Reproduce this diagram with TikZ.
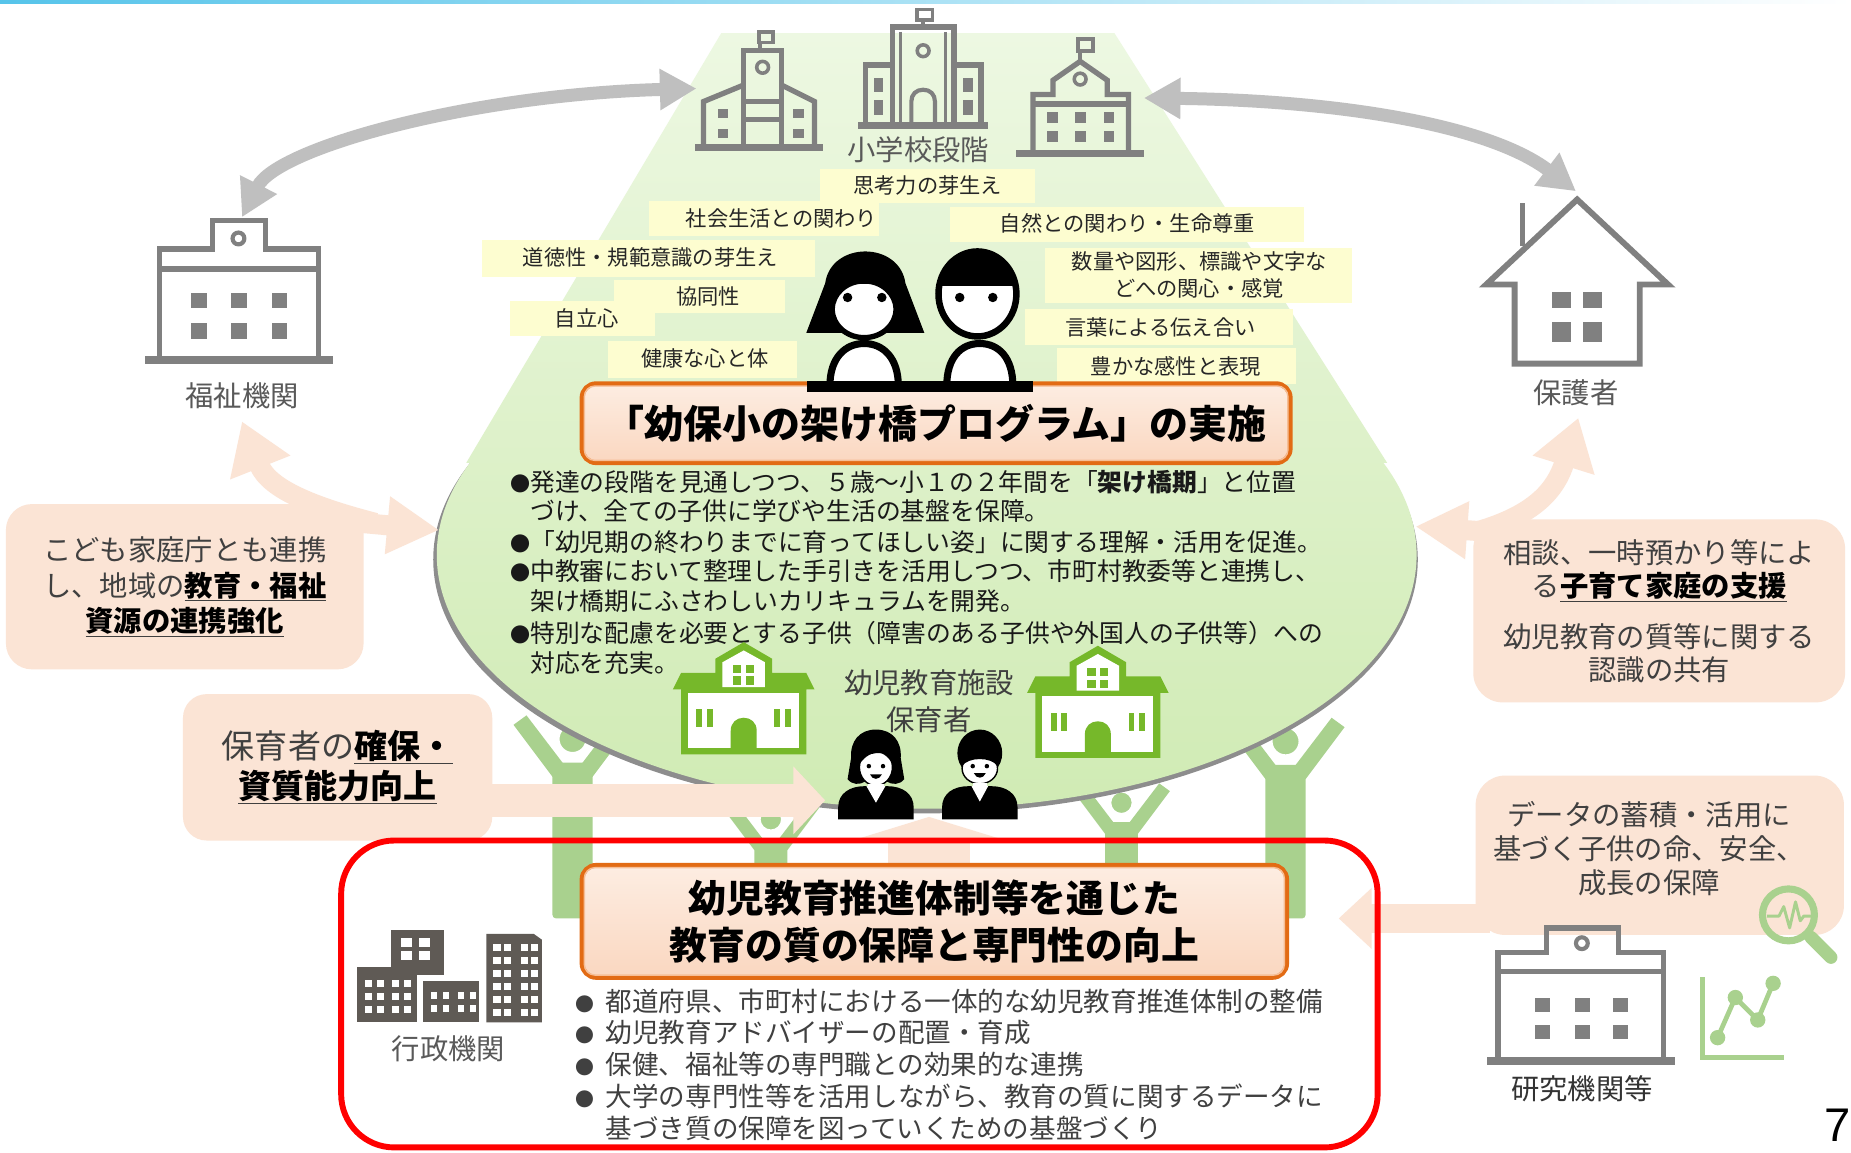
\documentclass[tikz,border=0pt]{standalone}
\usepackage{fontspec}
\setmainfont{Noto Sans CJK JP}
\newfontfamily\pagenumfont{Liberation Sans}
\usetikzlibrary{arrows.meta}

\definecolor{peach}{RGB}{251,228,213}
\definecolor{arrowgray}{RGB}{191,191,191}
\definecolor{icongray}{RGB}{128,128,128}
\definecolor{labelgray}{RGB}{89,89,89}
\definecolor{textdark}{RGB}{64,64,64}
\definecolor{paleyellow}{RGB}{253,253,208}
\definecolor{spotgreen}{RGB}{237,248,226}
\definecolor{ovalbottom}{RGB}{208,235,180}
\definecolor{schoolgreen}{RGB}{118,184,42}
\definecolor{softgreen}{RGB}{169,209,142}
\definecolor{admingray}{RGB}{95,90,85}
\definecolor{titleorange}{RGB}{226,107,20}
\definecolor{titletop}{RGB}{253,237,226}
\definecolor{titlebottom}{RGB}{250,215,192}
\definecolor{titleline}{RGB}{246,190,150}
\definecolor{topblue}{RGB}{86,196,234}

\newcommand{\ulb}[1]{\underline{\textbf{\textcolor{black}{#1}}}}
\newcommand{\dotmark}{{\fontsize{17}{17}\selectfont ●}}
\newcommand{\reddot}{{\fontsize{16}{16}\selectfont ●}\hspace{10pt}}

% cheering figure: head centre (x,y), scale, body length in local units
\newcommand{\cheerfig}[4]{%
  \begin{scope}[shift={(#1,#2)}, scale=#3]
    \fill[softgreen, rounded corners=3pt] (-17,20) rectangle (17,#4);
    \fill[softgreen] (-17,32) -- (-50,-12) -- (-39,-20) -- (-7,22) -- (7,22)
      -- (39,-20) -- (50,-12) -- (17,32) -- cycle;
    \filldraw[fill=softgreen, draw=white, line width=4pt] (0,0) circle (13pt);
  \end{scope}}

% green kindergarten building: apex at (x,y)
\newcommand{\kinderschool}[2]{%
  \begin{scope}[shift={(#1,#2)}]
    \fill[schoolgreen] (0,-3) -- (24,11) -- (24,23) -- (53,23) -- (60,37) -- (53,37)
      -- (53,92) -- (-53,92) -- (-53,37) -- (-60,37) -- (-53,23) -- (-24,23) -- (-24,11) -- cycle;
    \fill[white] (0,4) -- (18,14) -- (18,35) -- (-18,35) -- (-18,14) -- cycle;
    \fill[white] (-47,40) rectangle (47,87);
    \fill[schoolgreen] (-9,16) rectangle (-2,23);
    \fill[schoolgreen] (2,16) rectangle (9,23);
    \fill[schoolgreen] (-9,26) rectangle (-2,33);
    \fill[schoolgreen] (2,26) rectangle (9,33);
    \fill[schoolgreen] (-11,87) -- (-11,72) .. controls (-11,65) and (-6,61) .. (0,61)
      .. controls (6,61) and (11,65) .. (11,72) -- (11,87) -- cycle;
    \fill[schoolgreen] (-40,54) rectangle (-35,69);
    \fill[schoolgreen] (-31,54) rectangle (-26,69);
    \fill[schoolgreen] (26,54) rectangle (31,69);
    \fill[schoolgreen] (35,54) rectangle (40,69);
  \end{scope}}

\tikzset{
  icon/.style={draw=icongray, line width=4.5pt, line join=miter},
  iconbase/.style={draw=icongray, line width=7pt},
  lbl/.style={text=labelgray, font=\fontsize{24}{28}\selectfont, inner sep=0pt},
  tagbox/.style={fill=paleyellow},
  tag/.style={font=\fontsize{18}{23}\selectfont, text=black!85, inner sep=0pt, align=center},
  ovaltext/.style={font=\fontsize{21}{25}\selectfont, inner sep=0pt, anchor=west, text=black!90},
  redtext/.style={font=\fontsize{22.5}{27}\selectfont, inner sep=0pt, anchor=west, text=textdark},
  sidebox/.style={fill=peach, rounded corners=22pt, inner sep=0pt, text=textdark, align=center},
  sidetext/.style={text=textdark, align=center, inner sep=0pt},
  titlebox/.style={draw=titleorange, line width=4pt, rounded corners=12pt,
    top color=titletop, bottom color=titlebottom, inner sep=0pt, align=center,
    font=\bfseries\fontsize{33}{40}\selectfont},
  grayarrow/.style={draw=arrowgray, line width=11pt},
  peacharrow/.style={draw=peach}
}

\begin{document}
\begin{tikzpicture}[x=1pt,y=-1pt]
\useasboundingbox (0,0) rectangle (1568,976);
\fill[white] (0,0) rectangle (1568,976);
\shade[left color=topblue, right color=white] (0,0) rectangle (1568,3);

% ---------- cheering figures holding the oval ----------
\cheerfig{485}{626}{1}{152}
\cheerfig{1089}{628}{1}{150}
\cheerfig{653}{694}{0.82}{102}
\cheerfig{950}{680}{0.82}{119}

% ---------- spotlight and oval, shaded as one region ----------
\fill[icongray!90] (784,474) ellipse (417pt and 215pt);
\shade[top color=spotgreen, middle color=spotgreen!82!ovalbottom, bottom color=ovalbottom]
  (611,28) -- (395,392) -- (1175,392) -- (944,28) -- cycle
  (785,470) ellipse (415pt and 215pt);

% ---------- primary school icons ----------
% left school
\draw[icon] (596,123) -- (596,86) -- (630,72);
\draw[icon] (662,72) -- (690,86) -- (690,123);
\draw[icon] (630,123) -- (630,43) -- (662,43) -- (662,123);
\draw[icon] (630,86) -- (662,86);
\draw[icon] (630,101) -- (662,101);
\draw[icon, line width=3pt] (646,57) circle (5pt);
\draw[icon, line width=3pt] (644,43) -- (644,36);
\draw[icon, line width=3pt] (643,27) rectangle (655,36);
\fill[icongray] (608,92) rectangle (617,100);
\fill[icongray] (608,109) rectangle (617,117);
\fill[icongray] (672,92) rectangle (681,100);
\fill[icongray] (672,109) rectangle (681,117);
\draw[iconbase, line width=6pt] (589,125) -- (697,125);
% middle tall building
\draw[icon] (733,104) -- (733,55) -- (756,55);
\draw[icon] (756,104) -- (756,23) -- (808,23) -- (808,104);
\draw[icon] (808,55) -- (831,55) -- (831,104);
\draw[icon, line width=2.5pt] (763,27) -- (763,104);
\draw[icon, line width=2.5pt] (801,27) -- (801,104);
\draw[icon, line width=3pt] (782,43) circle (5pt);
\draw[icon, line width=3.5pt] (772,104) -- (772,86) .. controls (772,80) and (776,76) .. (782,76)
  .. controls (788,76) and (792,80) .. (792,86) -- (792,104);
\draw[icon, line width=3pt] (782,23) -- (782,17);
\draw[icon, line width=3pt] (777,8) rectangle (790,17);
\fill[icongray] (740,66) rectangle (748,78);
\fill[icongray] (740,85) rectangle (748,97);
\fill[icongray] (816,66) rectangle (824,78);
\fill[icongray] (816,85) rectangle (824,97);
\draw[iconbase, line width=6pt] (727,106) -- (837,106);
% right school
\draw[icon] (875,128) -- (875,80) -- (892,80) -- (892,68) -- (915,52) -- (938,68) -- (938,80) -- (956,80) -- (956,128);
\draw[icon] (875,88) -- (956,88);
\draw[icon, line width=3pt] (915,67) circle (5pt);
\draw[icon, line width=3pt] (915,52) -- (915,44);
\draw[icon, line width=3pt] (913,33) rectangle (926,43);
\foreach \wx in {887,911,935} {
  \fill[icongray] (\wx,95) rectangle ++(9,9);
  \fill[icongray] (\wx,111) rectangle ++(9,9);
}
\draw[iconbase, line width=6pt] (861,130) -- (969,130);
\node[lbl] (stage) at (778,127) {小学校段階};

% ---------- grey two-way arrows ----------
\coordinate (welfareend) at (205,184);
\coordinate (stageleft) at (590,75);
\coordinate (stageright) at (969,83);
\coordinate (homeend) at (1335,162);
\draw[grayarrow, {Triangle[width=33pt,length=31pt]}-{Triangle[width=33pt,length=31pt]}]
  (welfareend) .. controls (235,125) and (400,80) .. (stageleft);
\draw[grayarrow, {Triangle[width=33pt,length=31pt]}-{Triangle[width=33pt,length=31pt]}]
  (stageright) .. controls (1130,85) and (1260,105) .. (homeend);

% ---------- ten aspects tags ----------
\fill[tagbox] (695,143) rectangle (877,172);
\fill[tagbox] (550,170) rectangle (745,200);
\fill[tagbox] (805,175) rectangle (1105,205);
\fill[tagbox] (408,203) rectangle (690,235);
\fill[tagbox] (885,210) rectangle (1145,257);
\fill[tagbox] (520,237) rectangle (665,265);
\fill[tagbox] (432,255) rectangle (555,285);
\fill[tagbox] (868,262) rectangle (1095,292);
\fill[tagbox] (515,289) rectangle (675,320);
\fill[tagbox] (895,295) rectangle (1098,325);
\node[tag] (t1) at (786,157) {思考力の芽生え};
\node[tag] (t2) at (662,185) {社会生活との関わり};
\node[tag] (t3) at (955,189) {自然との関わり・生命尊重};
\node[tag] (t4) at (551,218) {道徳性・規範意識の芽生え};
\node[tag] (t5) at (1016,233) {数量や図形、標識や文字な\\どへの関心・感覚};
\node[tag] (t6) at (600,251) {協同性};
\node[tag] (t7) at (497,270) {自立心};
\node[tag] (t8) at (983,277) {言葉による伝え合い};
\node[tag] (t9) at (597,304) {健康な心と体};
\node[tag] (t10) at (996,310) {豊かな感性と表現};

% ---------- programme title ----------
\node[titlebox, minimum width=600pt, minimum height=67pt] (prog) at (793,358.5)
  {「幼保小の架け橋プログラム」の実施};
\draw[titleline, line width=1.2pt, rounded corners=9pt]
  ([shift={(4pt,4pt)}]prog.south west) rectangle ([shift={(-4pt,-4pt)}]prog.north east);

% ---------- children ----------
% girl
\fill[black] (683,282) -- (699,240) .. controls (704,204) and (762,204) .. (767,240) -- (783,282) -- cycle;
\begin{scope}
  \clip (680,241) rectangle (790,300);
  \filldraw[fill=white, draw=black, line width=4.5pt] (732,262) ellipse (27pt and 24pt);
\end{scope}
\fill[black] (718,252) circle (4pt);
\fill[black] (747,252) circle (4pt);
\filldraw[fill=white, draw=black, line width=6pt] (703,327) .. controls (703,303) and (716,291) .. (732,291)
  .. controls (748,291) and (761,303) .. (761,327);
% boy
\begin{scope}
  \clip (828,249) ellipse (35pt and 38pt);
  \fill[white] (790,205) rectangle (870,295);
  \fill[black] (790,205) rectangle (870,242);
\end{scope}
\draw[black, line width=5.5pt] (828,249) ellipse (33pt and 36pt);
\fill[black] (813,252) circle (4pt);
\fill[black] (841,252) circle (4pt);
\filldraw[fill=white, draw=black, line width=6pt] (802,327) .. controls (802,303) and (814,291) .. (830,291)
  .. controls (846,291) and (858,303) .. (858,327);
\fill[black] (684,323) rectangle (875,332);

% ---------- programme bullets ----------
\node[ovaltext] (b1) at (432,408) {\dotmark 発達の段階を見通しつつ、５歳～小１の２年間を「\textbf{架け橋期}」と位置};
\node[ovaltext] (b1b) at (432,433) {\phantom{\dotmark}づけ、全ての子供に学びや生活の基盤を保障。};
\node[ovaltext] (b2) at (432,459) {\dotmark「幼児期の終わりまでに育ってほしい姿」に関する理解・活用を促進。};
\node[ovaltext] (b3) at (432,484) {\dotmark 中教審において整理した手引きを活用しつつ、市町村教委等と連携し、};
\node[ovaltext] (b3b) at (432,509) {\phantom{\dotmark}架け橋期にふさわしいカリキュラムを開発。};
\node[ovaltext] (b4) at (432,536) {\dotmark 特別な配慮を必要とする子供（障害のある子供や外国人の子供等）への};
\node[ovaltext] (b4b) at (432,562) {\phantom{\dotmark}対応を充実。};

% ---------- kindergartens and carers ----------
\kinderschool{630}{547}
\kinderschool{930}{550}
\node[lbl, text=textdark] (facility) at (787,578) {幼児教育施設};
\node[lbl, text=textdark] (carers) at (787,610) {保育者};
% woman
\fill[black] (742,618) .. controls (728,618) and (720,628) .. (721,642) -- (718,660)
  .. controls (722,665) and (728,665) .. (733,662) -- (751,662)
  .. controls (756,665) and (762,665) .. (766,660) -- (763,642)
  .. controls (764,628) and (756,618) .. (742,618) -- cycle;
\filldraw[fill=white, draw=black, line width=1.2pt] (742,650) ellipse (14pt and 15.5pt);
\fill[black] (727,649) .. controls (726,628) and (758,628) .. (757,649)
  .. controls (752,639) and (746,637) .. (742,638) .. controls (737,638) and (731,642) .. (727,649) -- cycle;
\fill[black] (736,649) circle (1.9pt);
\fill[black] (748,649) circle (1.9pt);
\fill[black] (737,656) .. controls (739,661) and (745,661) .. (747,656) -- cycle;
\fill[white] (735,664) rectangle (749,672);
\fill[black] (710,694) -- (710,684) .. controls (710,672) and (720,666) .. (732,666) -- (752,666)
  .. controls (764,666) and (774,672) .. (774,684) -- (774,694) -- cycle;
\fill[white] (734,666) -- (750,666) -- (742,680) -- cycle;
% man
\fill[black] (830,638) ellipse (19pt and 20pt);
\filldraw[fill=white, draw=black, line width=1.2pt] (830,651) ellipse (15pt and 13pt);
\fill[black] (815,649) .. controls (815,631) and (845,631) .. (845,649)
  .. controls (840,641) and (820,641) .. (815,649) -- cycle;
\fill[black] (824,649) circle (1.9pt);
\fill[black] (836,649) circle (1.9pt);
\fill[black] (825,655) .. controls (827,660) and (833,660) .. (835,655) -- cycle;
\fill[white] (824,663) rectangle (836,671);
\fill[black] (798,694) -- (798,684) .. controls (798,672) and (808,666) .. (820,666) -- (840,666)
  .. controls (852,666) and (862,672) .. (862,684) -- (862,694) -- cycle;
\fill[white] (823,666) -- (837,666) -- (830,679) -- cycle;

% ---------- welfare office ----------
\draw[icon] (135,302) -- (135,211) -- (180,211) -- (180,187) -- (225,187) -- (225,211) -- (270,211) -- (270,302);
\draw[icon] (135,228) -- (270,228);
\draw[icon, line width=3.5pt] (202,202) circle (5pt);
\foreach \wx in {162,196,230} {
  \fill[icongray] (\wx,248) rectangle ++(13,13);
  \fill[icongray] (\wx,274) rectangle ++(13,13);
}
\draw[iconbase] (123,305) -- (282,305);
\node[lbl] (welfare) at (205,335) {福祉機関};

% ---------- guardians' house ----------
\draw[icon, line width=5pt] (1283,308) -- (1283,241) -- (1259,241) -- (1336,169) -- (1413,241) -- (1389,241) -- (1389,308) -- cycle;
\draw[icon, line width=4pt] (1290,172) -- (1290,208);
\fill[icongray] (1315,247) rectangle (1331,261);
\fill[icongray] (1341,247) rectangle (1357,261);
\fill[icongray] (1315,273) rectangle (1331,290);
\fill[icongray] (1341,273) rectangle (1357,290);
\node[lbl] (guardians) at (1335,333) {保護者};

% ---------- peach side boxes and arrows ----------
\node[sidebox, minimum width=303pt, minimum height=140pt, font=\fontsize{24}{30}\selectfont] (famlink) at (156.5,497)
  {こども家庭庁とも連携\\し、地域の\ulb{教育・福祉}\\\ulb{資源の連携強化}};
\node[sidebox, minimum width=315pt, minimum height=155pt, rounded corners=25pt, font=\fontsize{24}{28}\selectfont] (support) at (1405.5,517.5)
  {相談、一時預かり等によ\\る\ulb{子育て家庭の支援}\\[15pt]幼児教育の質等に関する\\認識の共有};
\node[sidebox, minimum width=262pt, minimum height=124pt, rounded corners=20pt, font=\fontsize{28}{34}\selectfont] (staff) at (286,650)
  {保育者の\ulb{確保・}\\\ulb{資質能力向上}};
\node[sidebox, minimum width=312pt, minimum height=135pt, rounded corners=25pt] (databox) at (1406,724.5) {};
\node[sidetext, font=\fontsize{24}{29}\selectfont] (datatext) at (1397,719)
  {データの蓄積・活用に\\基づく子供の命、安全、\\成長の保障};

\coordinate (famout) at (285,441);
\coordinate (famfork) at (318,443);
\coordinate (ovalwest) at (372,449);
\coordinate (welfarein) at (205,357);
\coordinate (supout) at (1282,452);
\coordinate (supfork) at (1252,450);
\coordinate (ovaleast) at (1199,446);
\coordinate (guardin) at (1337,354);
\coordinate (staffout) at (405,678);
\coordinate (carerin) at (699,678);
\coordinate (dataout) at (1262,778);
\coordinate (redeast) at (1134,778);
\coordinate (basetop) at (787,745);
\coordinate (carerbase) at (787,692);

\draw[peacharrow, line width=17pt, -{Triangle[width=46pt,length=44pt]}] (famout) -- (ovalwest);
\draw[peacharrow, line width=17pt, -{Triangle[width=52pt,length=42pt]}]
  (famfork) .. controls (268,430) and (228,415) .. (welfarein);
\draw[peacharrow, line width=17pt, -{Triangle[width=46pt,length=44pt]}] (supout) -- (ovaleast);
\draw[peacharrow, line width=17pt, -{Triangle[width=52pt,length=42pt]}]
  (supfork) .. controls (1300,436) and (1318,415) .. (guardin);
\draw[peacharrow, line width=28pt, -{Triangle[width=56pt,length=27pt]}] (staffout) -- (carerin);
\draw[peacharrow, line width=25pt, -{Triangle[width=50pt,length=28pt]}] (dataout) -- (redeast);
\draw[peacharrow, line width=70pt, -{Triangle[width=136pt,length=21pt]}] (basetop) -- (carerbase);

% ---------- promotion system frame ----------
\draw[red, line width=5pt, rounded corners=45pt] (289,712) rectangle (1167,972);
\node[titlebox, minimum width=597pt, minimum height=95pt, font=\bfseries\fontsize{32}{40}\selectfont] (quality) at (791.5,780.5)
  {幼児教育推進体制等を通じた\\教育の質の保障と専門性の向上};
\draw[titleline, line width=1.2pt, rounded corners=9pt]
  ([shift={(4pt,4pt)}]quality.south west) rectangle ([shift={(-4pt,-4pt)}]quality.north east);
\node[redtext] (r1) at (487,848) {\reddot 都道府県、市町村における一体的な幼児教育推進体制の整備};
\node[redtext] (r2) at (487,875) {\reddot 幼児教育アドバイザーの配置・育成};
\node[redtext] (r3) at (487,902) {\reddot 保健、福祉等の専門職との効果的な連携};
\node[redtext] (r4) at (487,929) {\reddot 大学の専門性等を活用しながら、教育の質に関するデータに};
\node[redtext] (r4b) at (513,956) {基づき質の保障を図っていくための基盤づくり};

% ---------- administrative offices ----------
\fill[admingray] (331,788) rectangle (376,826);
\fill[admingray] (302,819) rectangle (353,866);
\fill[admingray] (358,831) rectangle (406,866);
\fill[admingray] (412,866) -- (412,791) -- (452,791) -- (459,796) -- (459,866) -- cycle;
\foreach \wx in {340,355} \foreach \wy in {795,806} { \fill[white] (\wx,\wy) rectangle ++(9,7); }
\foreach \wx in {309,319,332,342} \foreach \wy in {830,841,852} { \fill[white] (\wx,\wy) rectangle ++(6,6); }
\foreach \wx in {365,375,388,398} \foreach \wy in {840,851} { \fill[white] (\wx,\wy) rectangle ++(5,6); }
\foreach \wx in {418,427,441,450} \foreach \wy in {800,811,822,833,844,855} { \fill[white] (\wx,\wy) rectangle ++(6,6); }
\node[lbl] (admin) at (380,888) {行政機関};

% ---------- research institutions ----------
\draw[icon] (1269,897) -- (1269,807) -- (1310,807) -- (1310,786) -- (1371,786) -- (1371,807) -- (1409,807) -- (1409,897);
\draw[icon] (1269,823) -- (1409,823);
\draw[icon, line width=3.5pt] (1340,799) circle (5pt);
\foreach \wx in {1300,1334,1366} {
  \fill[icongray] (\wx,845) rectangle ++(13,12);
  \fill[icongray] (\wx,868) rectangle ++(13,12);
}
\draw[iconbase] (1260,899) -- (1419,899);
\node[lbl, text=black!80] (research) at (1340,922) {研究機関等};
% magnifier and chart
\draw[softgreen, line width=6pt] (1515,775) circle (22pt);
\draw[softgreen, line width=11pt, line cap=round] (1534,794) -- (1551,811);
\draw[softgreen, line width=2.5pt, line join=round] (1497,776) -- (1507,776) -- (1511,768) -- (1516,786) -- (1521,764) -- (1525,780) -- (1528,776) -- (1535,776);
\draw[softgreen, line width=4.5pt] (1442,828) -- (1442,896) -- (1511,896);
\draw[softgreen, line width=4pt] (1455,879) -- (1470,845) -- (1489,864) -- (1502,833);
\foreach \px/\py in {1455/879,1470/845,1489/864,1502/833} { \fill[softgreen] (\px,\py) circle (6.5pt); }

% page number
\node[anchor=west, inner sep=0pt, font=\pagenumfont\fontsize{40}{40}\selectfont] (pagenum) at (1545,953) {7};
\end{tikzpicture}
\end{document}
